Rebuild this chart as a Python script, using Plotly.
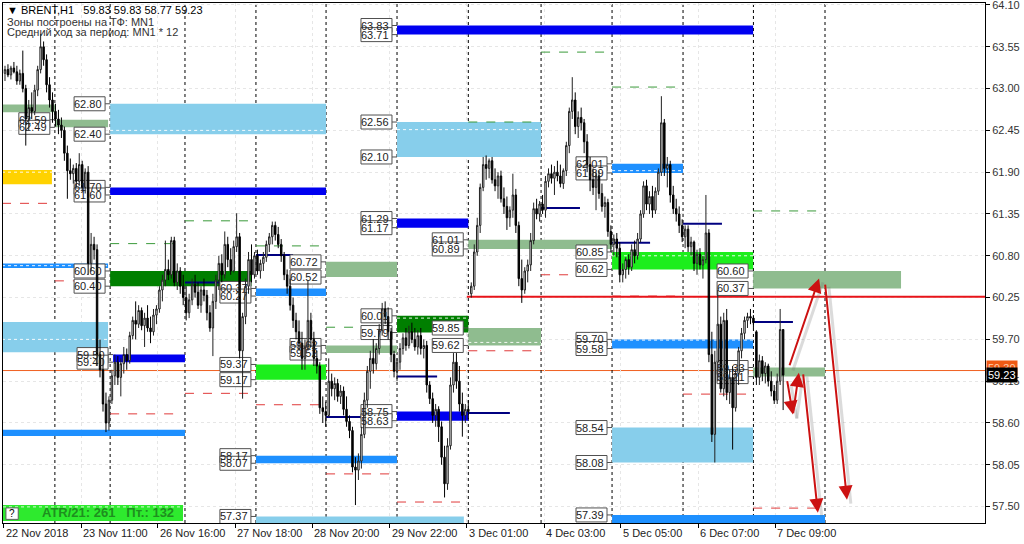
import plotly.graph_objects as go

# ---------------- candle data (BRENT, H1) ----------------
opens = [63.20, 63.25, 63.18, 63.27, 63.22, 63.10, 63.20, 63.00, 62.60, 62.75,
         62.70, 62.98, 63.25, 63.55, 63.38, 63.05, 62.85, 62.70, 62.60, 62.52,
         62.45, 62.15, 61.92, 61.88, 61.95, 61.78, 62.00, 61.70, 61.90, 60.70,
         60.95, 60.88, 59.50, 59.30, 58.85, 58.60, 58.90, 59.22, 59.40, 59.20,
         59.38, 59.50, 59.42, 59.75, 59.95, 59.90, 60.08, 59.88, 59.98, 59.85,
         59.80, 60.02, 60.10, 60.35, 60.48, 60.62, 60.55, 61.00, 60.45, 60.60,
         60.40, 60.25, 60.05, 60.22, 60.42, 60.32, 60.15, 60.35, 60.28, 60.05,
         59.85, 60.20, 60.48, 60.70, 60.55, 60.95, 60.75, 60.60, 60.92, 61.05,
         59.55, 60.00, 60.40, 60.75, 60.55, 60.80, 60.60, 60.70, 60.78, 60.95,
         61.05, 61.20, 61.08, 60.95, 60.80, 60.55, 60.40, 60.15, 59.95, 59.80,
         59.65, 59.45, 59.60, 59.95, 59.70, 59.45, 59.35, 58.80, 58.75, 58.70,
         59.15, 59.05, 59.12, 58.95, 59.02, 58.78, 58.62, 58.50, 58.02, 57.98,
         58.10, 58.45, 58.90, 59.28, 59.45, 59.38, 59.58, 59.82, 60.10, 60.00,
         59.80, 59.50, 59.28, 59.40, 59.58, 59.72, 59.62, 59.80, 59.70, 59.60,
         59.75, 59.58, 59.62, 59.10, 58.92, 58.70, 58.78, 58.55, 58.15, 57.80,
         58.30, 59.10, 59.40, 59.15, 58.85, 58.70, 58.78, 60.30, 60.40, 60.85,
         61.20, 61.70, 62.00, 61.95, 62.05, 61.80, 61.72, 61.85, 61.55, 61.45,
         61.30, 61.40, 61.60, 61.20, 60.50, 60.35, 60.60, 60.68, 61.00, 61.42,
         61.35, 61.48, 61.40, 61.78, 61.88, 61.82, 61.90, 61.85, 61.75, 61.92,
         62.25, 62.70, 62.85, 62.50, 62.62, 62.55, 62.30, 62.00, 61.80, 61.70,
         61.85, 61.62, 61.45, 61.50, 61.12, 60.95, 61.02, 60.90, 60.55, 60.62,
         60.75, 60.65, 60.88, 60.80, 61.02, 61.35, 61.72, 61.48, 61.58, 61.40,
         61.65, 61.90, 62.55, 61.95, 62.00, 61.60, 61.42, 61.35, 61.20, 61.05,
         61.15, 60.92, 60.98, 60.70, 60.82, 60.68, 60.75, 61.10, 59.50, 58.45,
         59.40, 59.90, 59.05, 59.95, 59.00, 59.20, 58.80, 59.25, 59.55, 59.78,
         59.95, 60.00, 59.98, 59.80, 59.20, 59.42, 59.25, 59.35, 59.15, 59.02,
         58.90, 59.15, 59.83]
highs = [63.30, 63.32, 63.30, 63.35, 63.30, 63.25, 63.50, 63.05, 62.85, 62.95,
         63.05, 63.30, 63.72, 63.62, 63.45, 63.15, 62.95, 62.80, 62.72, 62.62,
         62.50, 62.25, 62.08, 62.00, 62.02, 62.15, 62.05, 61.95, 61.98, 61.10,
         61.05, 60.95, 59.70, 59.45, 59.00, 58.95, 59.30, 59.50, 59.48, 59.45,
         59.60, 59.58, 59.80, 60.00, 60.20, 60.15, 60.12, 60.05, 60.15, 60.00,
         60.10, 60.15, 60.40, 60.55, 61.00, 60.75, 61.05, 61.05, 60.70, 60.65,
         60.55, 60.40, 60.30, 60.50, 60.55, 60.45, 60.40, 60.50, 60.35, 60.15,
         60.30, 60.55, 60.80, 60.82, 61.12, 61.05, 60.90, 61.00, 61.36, 61.10,
         60.05, 60.50, 60.85, 60.95, 60.85, 60.88, 60.75, 60.85, 61.00, 61.10,
         61.25, 61.25, 61.18, 61.02, 60.85, 60.62, 60.50, 60.25, 60.05, 59.95,
         59.80, 59.70, 60.48, 60.05, 59.80, 59.55, 59.40, 58.95, 58.88, 59.45,
         59.25, 59.20, 59.18, 59.10, 59.08, 58.95, 58.70, 58.55, 58.15, 58.20,
         58.55, 59.00, 59.35, 59.55, 59.70, 59.65, 59.90, 60.18, 60.20, 60.12,
         59.85, 59.55, 59.45, 59.65, 59.78, 59.85, 59.88, 59.92, 59.85, 59.82,
         59.85, 59.70, 59.68, 59.15, 59.00, 58.85, 58.82, 58.62, 58.30, 58.40,
         59.20, 59.52, 59.52, 59.35, 59.00, 58.85, 58.90, 60.45, 60.95, 61.30,
         61.75, 62.10, 62.12, 62.08, 62.10, 61.95, 61.90, 61.92, 61.70, 61.58,
         61.45, 61.88, 61.68, 61.25, 60.75, 60.65, 60.75, 61.10, 61.50, 61.55,
         61.52, 61.60, 61.85, 61.95, 62.00, 61.98, 62.05, 62.00, 61.95, 62.30,
         62.75, 63.15, 62.95, 62.70, 62.75, 62.60, 62.40, 62.10, 61.95, 61.90,
         61.92, 61.75, 61.58, 61.55, 61.20, 61.08, 61.10, 60.98, 60.70, 60.78,
         60.82, 60.95, 61.00, 61.10, 61.40, 61.78, 61.80, 61.65, 61.72, 61.70,
         61.95, 62.90, 62.60, 62.10, 62.05, 61.72, 61.55, 61.45, 61.28, 61.20,
         61.20, 61.05, 61.00, 60.88, 60.90, 60.80, 61.60, 61.15, 59.80, 59.55,
         60.35, 60.00, 60.05, 60.10, 59.30, 59.35, 59.30, 59.60, 59.85, 60.00,
         60.05, 60.10, 60.02, 59.82, 59.50, 59.48, 59.40, 59.38, 59.28, 59.10,
         59.25, 60.10, 59.83]
lows = [63.10, 63.15, 63.12, 63.20, 63.05, 63.05, 62.95, 62.25, 62.45, 62.60,
        62.65, 62.90, 63.20, 63.30, 62.95, 62.75, 62.55, 62.50, 62.40, 62.35,
        62.05, 61.55, 61.80, 61.75, 61.70, 61.72, 61.65, 61.62, 60.55, 60.60,
        60.75, 59.35, 59.20, 58.75, 58.48, 58.50, 58.85, 59.10, 59.10, 58.95,
        59.25, 59.30, 59.38, 59.70, 59.70, 59.85, 59.82, 59.60, 59.80, 59.65,
        59.75, 59.90, 60.05, 60.20, 60.40, 60.48, 60.50, 60.40, 60.35, 60.30,
        60.15, 59.95, 59.98, 60.15, 60.25, 60.10, 60.05, 60.20, 59.95, 59.80,
        59.48, 60.10, 60.35, 60.45, 60.50, 60.65, 60.55, 60.58, 60.85, 59.45,
        58.92, 59.90, 60.30, 60.45, 60.50, 60.55, 60.50, 60.60, 60.72, 60.85,
        60.95, 61.00, 60.90, 60.72, 60.48, 60.30, 60.08, 59.85, 59.70, 59.55,
        59.30, 59.30, 59.55, 59.60, 59.35, 59.25, 58.72, 58.60, 58.55, 58.68,
        58.95, 58.90, 58.88, 58.85, 58.70, 58.55, 58.40, 57.95, 57.52, 57.85,
        58.00, 58.40, 58.80, 59.05, 59.25, 59.30, 59.50, 59.75, 59.90, 59.70,
        59.40, 59.20, 59.15, 59.30, 59.50, 59.55, 59.58, 59.65, 59.55, 59.50,
        59.50, 59.45, 59.00, 58.85, 58.60, 58.55, 58.35, 58.05, 57.62, 57.72,
        58.25, 59.00, 59.05, 58.75, 58.42, 58.60, 58.65, 60.25, 60.35, 60.80,
        61.10, 61.65, 61.80, 61.82, 61.75, 61.65, 61.55, 61.50, 61.35, 61.14,
        61.18, 61.30, 61.10, 60.40, 60.18, 60.30, 60.45, 60.60, 60.95, 61.28,
        61.25, 61.35, 61.30, 61.70, 61.75, 61.60, 61.78, 61.70, 61.68, 61.85,
        62.15, 62.60, 62.40, 62.35, 62.45, 62.15, 61.90, 61.65, 61.60, 61.40,
        61.55, 61.38, 61.30, 61.05, 60.85, 60.80, 60.78, 60.45, 60.45, 60.50,
        60.55, 60.60, 60.70, 60.75, 60.98, 61.30, 61.40, 61.35, 61.30, 61.35,
        61.60, 61.85, 61.85, 61.70, 61.50, 61.35, 61.25, 61.10, 60.98, 60.90,
        60.85, 60.80, 60.60, 60.55, 60.62, 60.50, 60.70, 59.40, 58.35, 58.08,
        59.15, 59.00, 58.95, 58.90, 58.85, 58.25, 58.75, 59.10, 59.45, 59.70,
        59.85, 59.90, 59.85, 59.10, 59.10, 59.15, 59.12, 59.08, 58.95, 58.85,
        58.85, 59.10, 58.77]
closes = [63.25, 63.18, 63.27, 63.22, 63.10, 63.20, 63.00, 62.60, 62.75, 62.70,
          62.98, 63.25, 63.55, 63.38, 63.05, 62.85, 62.70, 62.60, 62.52, 62.45,
          62.15, 61.92, 61.88, 61.95, 61.78, 62.00, 61.70, 61.90, 60.70, 60.95,
          60.88, 59.50, 59.30, 58.85, 58.60, 58.90, 59.22, 59.40, 59.20, 59.38,
          59.50, 59.42, 59.75, 59.95, 59.90, 60.08, 59.88, 59.98, 59.85, 59.80,
          60.02, 60.10, 60.35, 60.48, 60.62, 60.55, 61.00, 60.45, 60.60, 60.40,
          60.25, 60.05, 60.22, 60.42, 60.32, 60.15, 60.35, 60.28, 60.05, 59.85,
          60.20, 60.48, 60.70, 60.55, 60.95, 60.75, 60.60, 60.92, 61.05, 59.55,
          60.00, 60.40, 60.75, 60.55, 60.80, 60.60, 60.70, 60.78, 60.95, 61.05,
          61.20, 61.08, 60.95, 60.80, 60.55, 60.40, 60.15, 59.95, 59.80, 59.65,
          59.45, 59.60, 59.95, 59.70, 59.45, 59.35, 58.80, 58.75, 58.70, 59.15,
          59.05, 59.12, 58.95, 59.02, 58.78, 58.62, 58.50, 58.02, 57.98, 58.10,
          58.45, 58.90, 59.28, 59.45, 59.38, 59.58, 59.82, 60.10, 60.00, 59.80,
          59.50, 59.28, 59.40, 59.58, 59.72, 59.62, 59.80, 59.70, 59.60, 59.75,
          59.58, 59.62, 59.10, 58.92, 58.70, 58.78, 58.55, 58.15, 57.80, 58.30,
          59.10, 59.40, 59.15, 58.85, 58.70, 58.78, 58.75, 60.40, 60.85, 61.20,
          61.70, 62.00, 61.95, 62.05, 61.80, 61.72, 61.85, 61.55, 61.45, 61.30,
          61.40, 61.60, 61.20, 60.50, 60.35, 60.60, 60.68, 61.00, 61.42, 61.35,
          61.48, 61.40, 61.78, 61.88, 61.82, 61.90, 61.85, 61.75, 61.92, 62.25,
          62.70, 62.85, 62.50, 62.62, 62.55, 62.30, 62.00, 61.80, 61.70, 61.85,
          61.62, 61.45, 61.50, 61.12, 60.95, 61.02, 60.90, 60.55, 60.62, 60.75,
          60.65, 60.88, 60.80, 61.02, 61.35, 61.72, 61.48, 61.58, 61.40, 61.65,
          61.90, 62.55, 61.95, 62.00, 61.60, 61.42, 61.35, 61.20, 61.05, 61.15,
          60.92, 60.98, 60.70, 60.82, 60.68, 60.75, 61.10, 59.50, 58.45, 59.40,
          59.90, 59.05, 59.95, 59.00, 59.20, 58.80, 59.25, 59.55, 59.78, 59.95,
          60.00, 59.98, 59.92, 59.20, 59.42, 59.25, 59.35, 59.15, 59.02, 58.90,
          59.15, 59.83, 59.23]
bars = list(range(len(closes)))

# ---------------- axes ----------------
x_tick_bars = [-0.5, 25.6, 51.5, 77.5, 103.5, 129.5, 155.5, 181.5, 207.4, 233.4, 259.3]
x_tick_text = ["22 Nov 2018", "23 Nov 11:00", "26 Nov 16:00", "27 Nov 18:00", "28 Nov 20:00",
               "29 Nov 22:00", "3 Dec 01:00", "4 Dec 03:00", "5 Dec 05:00", "6 Dec 07:00",
               "7 Dec 09:00"]
y_ticks = [57.50, 58.05, 58.60, 59.15, 59.70, 60.25, 60.80, 61.35, 61.90, 62.45, 63.00, 63.55, 64.10]
day_breaks = [16.8, 35.4, 60.6, 84.5, 108.1, 132.0, 156.0, 180.5, 204.4, 228.3, 252.0, 276.1]

# ---------------- zones: (start bar, end bar, top, bottom, colour, labels) ----------------
zones = [
    (-1, 16.8, 62.79, 62.69, "sage", None),
    (16.8, 34.7, 62.59, 62.49, "sage", "both"),
    (35.4, 108.1, 62.80, 62.40, "sky", "both"),
    (-1, 15.8, 61.93, 61.74, "gold", None),
    (35.4, 108.1, 61.70, 61.60, "blue", "both"),
    (-1, 34.7, 60.70, 60.64, "dodger", None),
    (35.4, 83.0, 60.60, 60.40, "dkgreen", "both"),
    (-1, 34.7, 59.93, 59.53, "sky", None),
    (36.4, 60.6, 59.50, 59.40, "blue", "both"),
    (-1, 60.6, 58.51, 58.43, "dodger", None),
    (84.5, 108.1, 60.37, 60.27, "dodger", "both"),
    (84.5, 108.1, 59.37, 59.17, "lime", "both"),
    (108.1, 132.0, 60.72, 60.52, "sage", "both"),
    (108.1, 132.0, 59.62, 59.52, "sage", "both"),
    (84.5, 132.0, 58.17, 58.07, "dodger", "both"),
    (132.0, 156.0, 60.01, 59.79, "dkgreen", "both"),
    (156.0, 180.5, 59.85, 59.62, "sage", "both"),
    (132.0, 156.0, 61.29, 61.17, "blue", "both"),
    (132.0, 180.5, 62.56, 62.10, "sky", "both"),
    (132.0, 251.9, 63.83, 63.71, "blue", "both"),
    (156.0, 204.4, 61.01, 60.89, "sage", "both"),
    (132.0, 156.0, 58.75, 58.63, "blue", "both"),
    (204.4, 228.3, 62.01, 61.89, "dodger", "both"),
    (204.4, 251.9, 60.85, 60.62, "lime", "both"),
    (251.9, 301.7, 60.60, 60.37, "sage", "both"),
    (204.4, 251.9, 59.70, 59.58, "dodger", "both"),
    (204.4, 251.9, 58.54, 58.08, "sky", "both"),
    (204.4, 276.1, 57.39, 57.20, "dodger", "top"),
    (84.5, 154.5, 57.37, 57.20, "sky", "top"),
    (251.9, 276.1, 59.33, 59.21, "sage", "both"),
]
zone_colors = {"sage": "#8FBC8F", "sky": "#87CEEB", "blue": "#0000F0", "dodger": "#1E90FF",
               "dkgreen": "#007F00", "lime": "#1CEE1C", "gold": "#FFD200"}

# white mid-lines inside zones: (start, end, price)
zone_midlines = [(35.4, 108.1, 62.45), (-1, 15.8, 61.90), (-1, 34.7, 60.67), (-1, 34.7, 59.70),
                 (132.0, 156.0, 59.98), (156.0, 180.5, 59.66), (132.0, 180.5, 62.46),
                 (204.4, 251.9, 60.80), (204.4, 251.9, 59.69), (204.4, 228.3, 61.92)]

# daily range projections: (start, end, price)
red_dashes = [(-1, 15.8, 61.49), (16.8, 34.7, 60.47), (35.4, 58.9, 58.72), (60.6, 84.5, 58.99),
              (84.5, 108.1, 58.84), (108.1, 132.0, 57.93), (132.0, 155.0, 57.56),
              (156.0, 180.5, 59.55), (180.5, 204.4, 60.55), (204.4, 228.3, 60.27),
              (228.3, 251.9, 58.98), (251.9, 276.1, 57.48)]
green_dashes = [(35.4, 58.9, 60.96), (60.6, 84.5, 61.26), (84.5, 108.1, 60.93), (108.1, 132.0, 59.86),
                (156.0, 180.5, 62.56), (180.5, 204.4, 63.48), (204.4, 228.3, 63.02),
                (251.9, 276.1, 61.39)]
navy_lines = [(60.6, 82.5, 60.45), (84.5, 97.0, 60.81), (108.1, 120.5, 58.68), (132.0, 145.5, 59.21),
              (156.0, 170.0, 58.73), (180.5, 193.6, 61.43), (204.4, 217.2, 60.97),
              (228.3, 241.4, 61.22), (251.9, 265.3, 59.93)]
red_level = (155.5, 60.26)
orange_level = 59.29
bid_price = 59.23

# forecast arrows: (tail bar, tail price, head bar, head price)
arrows = [(264.0, 59.34, 274.1, 60.50), (263.3, 59.17, 265.3, 58.71), (265.3, 58.71, 267.3, 59.26),
          (268.7, 59.26, 273.7, 57.42), (276.1, 60.44, 283.5, 57.59)]

header = ["\u25bc BRENT,H1\u00a0\u00a0 59.83 59.83 58.77 59.23",
          "Зоны построены на ТФ: MN1",
          "Средний ход за период: MN1 * 12"]
atr_text = "ATR/21: 261\u00a0\u00a0 Пт.: 132"

FONT = "Liberation Sans, Arial, sans-serif"
LABEL_GAP = 1.7

fig = go.Figure()
fig.add_trace(go.Candlestick(
    x=bars, open=opens, high=highs, low=lows, close=closes,
    increasing=dict(line=dict(color="#202020", width=1), fillcolor="#FFFFFF"),
    decreasing=dict(line=dict(color="#000000", width=1), fillcolor="#000000"),
    whiskerwidth=0, hoverinfo="skip", showlegend=False))

shapes = []
annotations = []

for x0, x1, top, bot, ck, lab in zones:
    shapes.append(dict(type="rect", xref="x", yref="y", x0=x0, x1=x1, y0=bot, y1=top,
                       fillcolor=zone_colors[ck], line=dict(width=0), layer="between"))
for x0, x1, p in zone_midlines:
    shapes.append(dict(type="line", xref="x", yref="y", x0=x0, x1=x1, y0=p, y1=p,
                       line=dict(color="rgba(255,255,255,0.9)", width=1, dash="dot"), layer="between"))
for x0, x1, p in red_dashes:
    shapes.append(dict(type="line", xref="x", yref="y", x0=x0, x1=x1, y0=p, y1=p,
                       line=dict(color="#E03A3A", width=1, dash="dash"), layer="between"))
for x0, x1, p in green_dashes:
    shapes.append(dict(type="line", xref="x", yref="y", x0=x0, x1=x1, y0=p, y1=p,
                       line=dict(color="#3A9A3A", width=1, dash="dash"), layer="between"))
for x0, x1, p in navy_lines:
    shapes.append(dict(type="line", xref="x", yref="y", x0=x0, x1=x1, y0=p, y1=p,
                       line=dict(color="#000080", width=2), layer="between"))
shapes.append(dict(type="line", xref="x", yref="y", x0=red_level[0], x1=340, y0=red_level[1],
                   y1=red_level[1], line=dict(color="#E8141A", width=2), layer="between"))
shapes.append(dict(type="line", xref="paper", yref="y", x0=0, x1=1, y0=orange_level,
                   y1=orange_level, line=dict(color="#F06020", width=1), layer="between"))
for d in day_breaks:
    shapes.append(dict(type="line", xref="x", yref="paper", x0=d, x1=d, y0=0, y1=1,
                       line=dict(color="#000000", width=1, dash="dot"), layer="between"))

# price labels of zones
for x0, x1, top, bot, ck, lab in zones:
    if lab is None:
        continue
    prices = [top, bot] if lab == "both" else [top]
    anchor = x0 - LABEL_GAP
    for p in prices:
        shapes.append(dict(type="line", xref="x", yref="y", x0=anchor, x1=x0, y0=p, y1=p,
                           line=dict(color="#505050", width=1), layer="between"))
        shapes.append(dict(type="rect", xref="x", yref="y", xsizemode="pixel", ysizemode="pixel",
                           xanchor=anchor, yanchor=p, x0=-31, x1=0, y0=-7, y1=7,
                           fillcolor="#FFFFFF", line=dict(color="#505050", width=1), layer="between"))
        annotations.append(dict(x=anchor, y=p, xref="x", yref="y", text=f"{p:.2f}", showarrow=False,
                                xanchor="right", yanchor="middle", xshift=-1,
                                font=dict(family=FONT, size=11, color="#222222")))

# arrow shadows and arrows
for tx, ty, hx, hy in arrows:
    shapes.append(dict(type="line", xref="x", yref="y", x0=tx + 1.3, y0=ty - 0.05, x1=hx + 1.3,
                       y1=hy - 0.05, line=dict(color="rgba(110,110,110,0.25)", width=3), layer="between"))
for tx, ty, hx, hy in arrows:
    annotations.append(dict(x=hx, y=hy, ax=tx, ay=ty, xref="x", yref="y", axref="x", ayref="y",
                            text="", showarrow=True, arrowhead=2, arrowsize=1.4, arrowwidth=2,
                            arrowcolor="#CC1111", standoff=0, startstandoff=0))

# x-axis labels (left-aligned at tick, like the terminal)
for xb, t in zip(x_tick_bars, x_tick_text):
    annotations.append(dict(x=xb, y=0, xref="x", yref="paper", text=t, showarrow=False,
                            xanchor="left", yanchor="top", yshift=-2,
                            font=dict(family=FONT, size=11, color="#222222")))

# header texts
header_y = [0.9865, 0.9635, 0.944]
header_col = ["#000000", "#333333", "#333333"]
for t, yy, c in zip(header, header_y, header_col):
    annotations.append(dict(x=0.002, y=yy, xref="paper", yref="paper", text=t, showarrow=False,
                            xanchor="left", yanchor="middle",
                            font=dict(family=FONT, size=11, color=c)))

# ATR box
shapes.append(dict(type="rect", xref="paper", yref="paper", x0=0.0, x1=0.1833, y0=0.004, y1=0.0346,
                   fillcolor="#2EEA2E", line=dict(width=0), layer="above"))
shapes.append(dict(type="line", xref="paper", yref="paper", x0=0.0, x1=0.1833, y0=0.031, y1=0.031,
                   line=dict(color="rgba(255,255,255,0.8)", width=1, dash="dot"), layer="above"))
shapes.append(dict(type="rect", xref="paper", yref="paper", x0=0.003, x1=0.0155, y0=0.007, y1=0.029,
                   fillcolor="#FFFFFF", line=dict(color="#606060", width=1), layer="above"))
annotations.append(dict(x=0.0093, y=0.018, xref="paper", yref="paper", text="?", showarrow=False,
                        xanchor="center", yanchor="middle",
                        font=dict(family=FONT, size=10, color="#000000")))
annotations.append(dict(x=0.107, y=0.0195, xref="paper", yref="paper", text=f"<b>{atr_text}</b>",
                        showarrow=False, xanchor="center", yanchor="middle",
                        font=dict(family=FONT, size=13, color="#1E8F1E")))

# right axis price tags
annotations.append(dict(x=1.0, y=orange_level + 0.03, xref="paper", yref="y", text="59.30",
                        showarrow=False, xanchor="left", yanchor="middle", xshift=1,
                        bgcolor="#F05A14", borderpad=1,
                        font=dict(family=FONT, size=11, color="#FFD0B0")))
annotations.append(dict(x=1.0, y=bid_price, xref="paper", yref="y", text=f"{bid_price:.2f}",
                        showarrow=False, xanchor="left", yanchor="middle", xshift=1,
                        bgcolor="#000000", borderpad=1,
                        font=dict(family=FONT, size=11, color="#FFFFFF")))

fig.update_layout(
    template="none",
    width=1024, height=544,
    margin=dict(l=3, r=39, t=3, b=21, autoexpand=False),
    paper_bgcolor="#FFFFFF", plot_bgcolor="#FFFFFF",
    showlegend=False,
    shapes=shapes, annotations=annotations,
    xaxis=dict(range=[-0.67, 329.97], tickvals=x_tick_bars, showticklabels=False,
               ticks="outside", ticklen=4, tickcolor="#000000", automargin=False,
               showgrid=True, gridcolor="#E6E6E6", griddash="dot",
               showline=True, linecolor="#000000", linewidth=1, mirror=True,
               zeroline=False, rangeslider=dict(visible=False), fixedrange=True),
    yaxis=dict(range=[57.284, 64.126], side="right", tickvals=y_ticks,
               ticktext=[f"{v:.2f}" for v in y_ticks], automargin=False,
               ticklabeloverflow="allow",
               tickfont=dict(family=FONT, size=11, color="#333333"),
               ticks="outside", ticklen=4, tickcolor="#000000",
               showgrid=True, gridcolor="#E6E6E6", griddash="dot",
               showline=True, linecolor="#000000", linewidth=1, mirror=True,
               zeroline=False, fixedrange=True),
)

fig.write_html("out.html", config={"displayModeBar": False},
               post_script="document.body.style.margin='0';document.body.style.overflow='hidden';")
